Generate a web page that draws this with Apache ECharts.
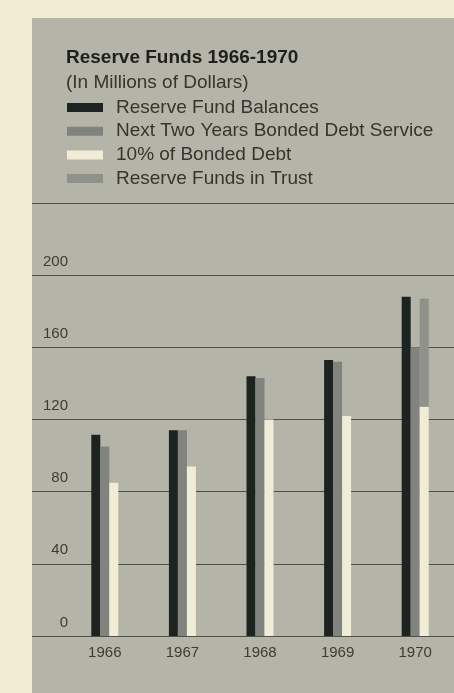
<!DOCTYPE html>
<html>
<head>
<meta charset="utf-8">
<script src="https://cdn.jsdelivr.net/npm/echarts@6/dist/echarts.min.js"></script>
<style>
  html, body { margin: 0; padding: 0; background: #f2ecd3; }
  #main { width: 454px; height: 693px; }
</style>
</head>
<body>
<div id="main"></div>
<script>
// 数据
const years = ['1966', '1967', '1968', '1969', '1970']
const fundBalances = [111.5, 114, 144, 153, 188]
const debtService = [105, 114, 143, 152, 160]
const tenPercent = [85, 94, 120, 122, 127]
const inTrust = ['-', '-', '-', '-', 60]
const yTicks = [0, 40, 80, 120, 160, 200, 240]

const font = 'Liberation Sans, Arial, sans-serif'
const myChart = echarts.init(document.getElementById('main'))

myChart.setOption({
  backgroundColor: '#f2ecd3',
  animation: false,
  graphic: [{
    type: 'rect',
    z: -10,
    silent: true,
    shape: { x: 32, y: 18, width: 422, height: 675 },
    style: { fill: '#b5b4a8' }
  }],
  title: {
    text: 'Reserve Funds 1966-1970',
    subtext: '(In Millions of Dollars)',
    left: 66,
    top: 48,
    padding: 0,
    itemGap: 5,
    textStyle: { fontFamily: font, fontSize: 19, fontWeight: 'bold', color: '#1f201c', lineHeight: 20 },
    subtextStyle: { fontFamily: font, fontSize: 19, color: '#34352f', lineHeight: 20 }
  },
  legend: {
    orient: 'vertical',
    left: 67,
    top: 98,
    padding: 0,
    itemWidth: 36,
    itemHeight: 9,
    itemGap: 4.7,
    icon: 'rect',
    selectedMode: false,
    textStyle: { fontFamily: font, fontSize: 19, color: '#34352f', lineHeight: 19, padding: [0, 0, 0, 8] },
    data: ['Reserve Fund Balances', 'Next Two Years Bonded Debt Service', '10% of Bonded Debt', 'Reserve Funds in Trust']
  },
  grid: [
    { left: 32, right: 0, top: 203, bottom: 57 },
    { left: 66, width: 392, top: 203, bottom: 57 }
  ],
  xAxis: [
    { gridIndex: 0, type: 'value', show: false },
    {
      gridIndex: 1,
      type: 'category',
      data: years,
      axisLine: { show: false },
      axisTick: { show: false },
      axisLabel: { fontFamily: font, fontSize: 15, color: '#3b3c37', margin: 9 }
    }
  ],
  yAxis: [
    {
      gridIndex: 0,
      type: 'value',
      min: yTicks[0],
      max: yTicks[yTicks.length - 1],
      interval: 40,
      axisLine: { show: false },
      axisTick: { show: false },
      splitLine: { lineStyle: { color: '#4f504a', width: 1 } },
      axisLabel: {
        inside: true,
        margin: 36,
        align: 'right',
        verticalAlign: 'bottom',
        padding: [0, 0, 6, 0],
        fontFamily: font,
        fontSize: 15,
        color: '#3b3c37',
        formatter: v => (v === 240 ? '' : v)
      }
    },
    { gridIndex: 1, type: 'value', min: 0, max: 240, show: false }
  ],
  series: [
    {
      name: 'Reserve Fund Balances',
      type: 'bar',
      xAxisIndex: 1, yAxisIndex: 1,
      barWidth: 9, barGap: '0%',
      itemStyle: { color: '#1d2321' },
      data: fundBalances
    },
    {
      name: 'Next Two Years Bonded Debt Service',
      type: 'bar',
      xAxisIndex: 1, yAxisIndex: 1,
      barWidth: 9, barGap: '0%',
      itemStyle: { color: '#80837e' },
      data: debtService
    },
    {
      name: '10% of Bonded Debt',
      type: 'bar',
      stack: 'c',
      xAxisIndex: 1, yAxisIndex: 1,
      barWidth: 9, barGap: '0%',
      itemStyle: { color: '#f1ecd6' },
      data: tenPercent
    },
    {
      name: 'Reserve Funds in Trust',
      type: 'bar',
      stack: 'c',
      xAxisIndex: 1, yAxisIndex: 1,
      barWidth: 9, barGap: '0%',
      itemStyle: { color: '#8f918b' },
      data: inTrust
    }
  ]
})
</script>
</body>
</html>
